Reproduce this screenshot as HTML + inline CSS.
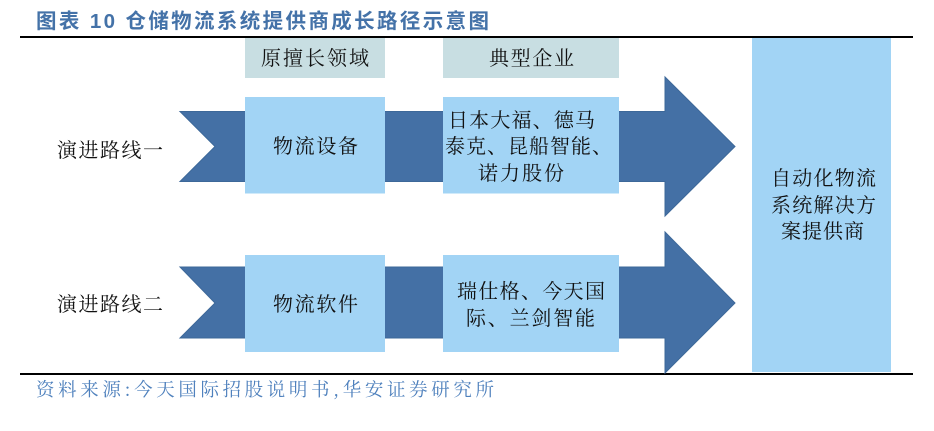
<!DOCTYPE html>
<html lang="zh-CN">
<head>
<meta charset="utf-8">
<style>
html,body{margin:0;padding:0;background:#fff;}
svg{display:block;}
text{font-family:"Noto Serif CJK SC","Liberation Serif",serif;fill:#111;font-size:20px;}
.t{font-family:"Liberation Sans","Noto Sans CJK SC",sans-serif;font-weight:700;fill:#4472a8;font-size:20.5px;}
.s{fill:#4f81bd;font-size:18.5px;}
</style>
</head>
<body>
<svg width="934" height="431" viewBox="0 0 934 431" xmlns="http://www.w3.org/2000/svg">
<rect width="934" height="431" fill="#fff"/>
<text class="t" x="36" y="28" textLength="453" lengthAdjust="spacing">图表 10 仓储物流系统提供商成长路径示意图</text>
<rect x="20" y="36" width="893" height="2" fill="#000"/>
<rect x="20" y="373" width="893" height="2" fill="#000"/>

<rect x="245" y="38" width="140" height="40" fill="#c8dee2"/>
<rect x="443" y="38" width="176" height="40" fill="#c8dee2"/>

<polygon points="180,111.500 665,111.500 665,77 735,146.500 665,216 665,181.500 180,181.500 215,146.500" fill="#4470a5" stroke="#3d6899" stroke-width="1"/>
<polygon points="180,267 665,267 665,232 735,303 665,373 665,338 180,338 215,303" fill="#4470a5" stroke="#3d6899" stroke-width="1"/>

<rect x="245" y="97" width="140" height="96.500" fill="#a2d4f5"/>
<rect x="443" y="97" width="176" height="96.500" fill="#a2d4f5"/>
<rect x="245" y="255" width="140" height="97" fill="#a2d4f5"/>
<rect x="443" y="255" width="176" height="97" fill="#a2d4f5"/>
<rect x="752" y="38" width="139" height="334" fill="#a2d4f5"/>

<text x="57" y="157" textLength="106" lengthAdjust="spacing">演进路线一</text>
<text x="57" y="311" textLength="106" lengthAdjust="spacing">演进路线二</text>
<text x="261" y="65" textLength="108" lengthAdjust="spacing">原擅长领域</text>
<text x="489" y="65" textLength="85" lengthAdjust="spacing">典型企业</text>
<text x="273" y="153" textLength="85" lengthAdjust="spacing">物流设备</text>
<text x="273" y="311" textLength="85" lengthAdjust="spacing">物流软件</text>
<text x="448" y="127" textLength="147" lengthAdjust="spacing">日本大福、德马</text>
<text x="445" y="153" textLength="167" lengthAdjust="spacing">泰克、昆船智能、</text>
<text x="478" y="180" textLength="86" lengthAdjust="spacing">诺力股份</text>
<text x="457" y="298" textLength="148" lengthAdjust="spacing">瑞仕格、今天国</text>
<text x="466" y="325" textLength="129" lengthAdjust="spacing">际、兰剑智能</text>
<text x="771" y="185" textLength="105" lengthAdjust="spacing">自动化物流</text>
<text x="771" y="212" textLength="105" lengthAdjust="spacing">系统解决方</text>
<text x="781" y="238" textLength="83" lengthAdjust="spacing">案提供商</text>
<text class="s" x="36" y="396" textLength="458" lengthAdjust="spacing">资料来源:今天国际招股说明书,华安证券研究所</text>
</svg>
</body>
</html>
